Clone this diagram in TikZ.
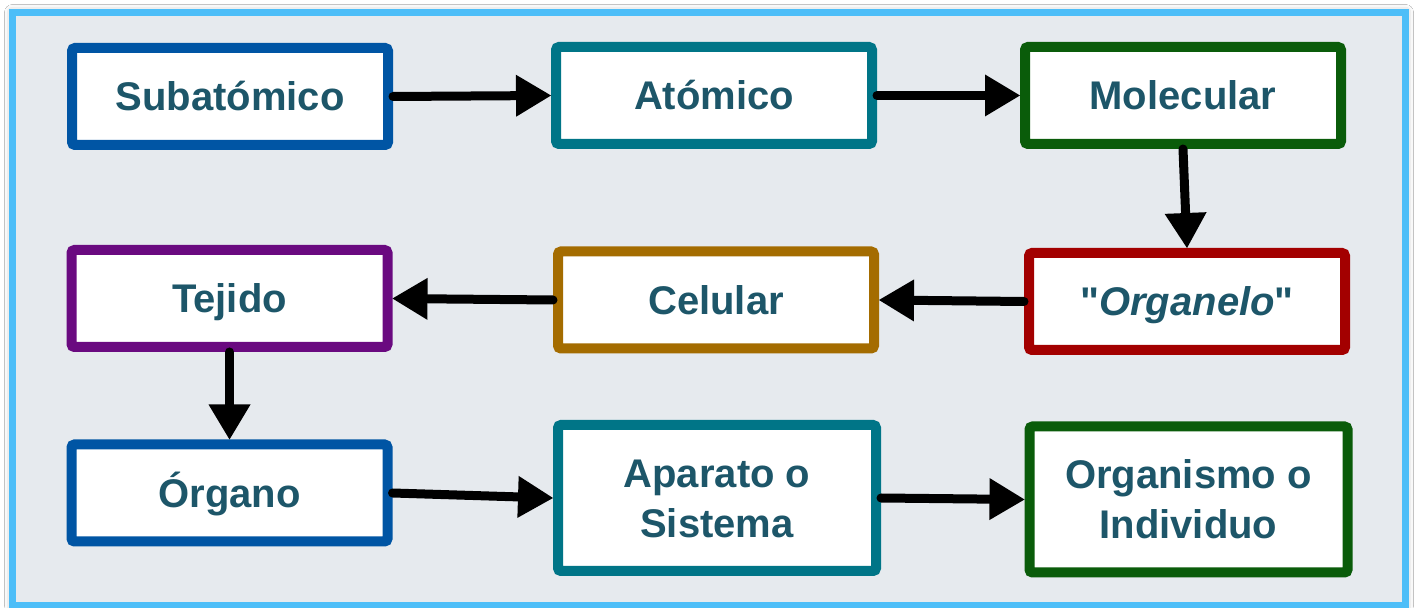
\documentclass[tikz,border=0pt]{standalone}
\usepackage{fontspec}
% plain family without TeX ligature mapping, so " stays a straight quote
\newfontfamily\labelfont{Liberation Sans}
\usetikzlibrary{arrows.meta,shadows.blur}

\definecolor{framebg}{HTML}{E6EAEE}
\definecolor{frameblue}{HTML}{4DBEF8}
\definecolor{txt}{HTML}{1D5669}
\definecolor{cblue}{HTML}{0055A4}
\definecolor{cteal}{HTML}{007587}
\definecolor{cgreen}{HTML}{0A5C0A}
\definecolor{cred}{HTML}{A30000}
\definecolor{cgold}{HTML}{A46C00}
\definecolor{cpurple}{HTML}{6A0A80}

\tikzset{
  level/.style={draw=#1, line width=5pt, fill=white, rounded corners=1.5pt,
    inner sep=0pt, minimum width=158pt, minimum height=48.5pt,
    text=txt, align=center, text height=14.3pt, text depth=0pt,
    font=\labelfont\fontsize{20}{25}\selectfont\bfseries},
  tall/.style={minimum width=159pt, minimum height=73pt, text height=39.3pt},
  flow/.style={draw=black, line width=4.5pt, line cap=round,
    -{Triangle[length=17.5pt,width=21pt,line width=0pt,fill=black]}}
}

\begin{document}
\begin{tikzpicture}[x=0.5pt, y=-0.5pt]
  \useasboundingbox (0,0) rectangle (1414,608);

  % outer frame
  \fill[white] (0,0) rectangle (1414,608);
  \draw[frameblue, line width=3.5pt, fill=framebg,
        blur shadow={shadow xshift=0pt, shadow yshift=0pt,
                     shadow blur radius=4pt, shadow opacity=35}]
    (12.5,12.5) rectangle (1405.5,605.5);

  % levels of organisation
  \node[level=cblue]   (sub) at (230,96.5)   {Subatómico};
  \node[level=cteal]   (ato) at (714,95.5)   {Atómico};
  \node[level=cgreen]  (mol) at (1183,95.5)  {Molecular};
  \node[level=cpurple] (tej) at (229.5,298.5) {Tejido};
  \node[level=cgold]   (cel) at (716,300)    {Celular};
  \node[level=cred]    (org) at (1187,301.5) {"\textit{Organelo}"};
  \node[level=cblue]   (ogn) at (229.5,493)  {Órgano};
  \node[level=cteal, tall]  (apa) at (717,498)    {Aparato o\\Sistema};
  \node[level=cgreen, tall] (ind) at (1188.5,499.5) {Organismo o\\Individuo};

  % connectors
  \draw[flow] (sub.east) -- (ato.west);
  \draw[flow] (ato.east) -- (mol.west);
  \draw[flow] (mol.south) -- (org.north);
  \draw[flow] (org.west) -- (cel.east);
  \draw[flow] (cel.west) -- (tej.east);
  \draw[flow] (tej.south) -- (ogn.north);
  \draw[flow] (ogn.east) -- (apa.west);
  \draw[flow] (apa.east) -- (ind.west);
\end{tikzpicture}
\end{document}
